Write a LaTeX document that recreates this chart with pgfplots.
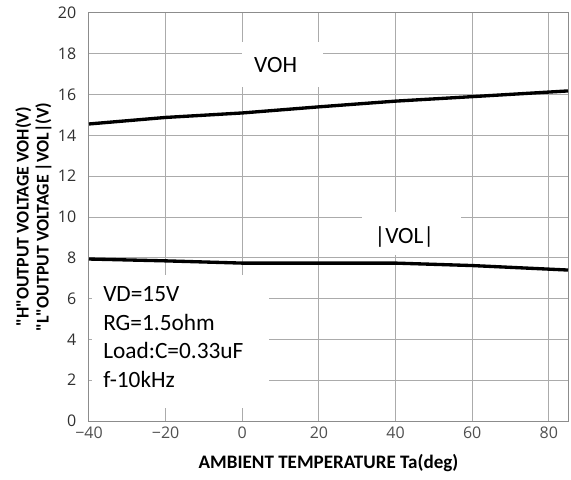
\documentclass[border=0pt]{standalone}
\usepackage{fontspec}
\setmainfont{Carlito}
\newfontfamily\lblfont{Carlito}
\newfontfamily\tickfont{Open Sans}
\usepackage{pgfplots}
\pgfplotsset{compat=1.18}
\definecolor{gridc}{HTML}{ABABAB}
\definecolor{axc}{HTML}{8C8C8C}
\definecolor{tickc}{HTML}{303030}
\definecolor{xtickc}{HTML}{505050}
\begin{document}
\begin{tikzpicture}
\begin{axis}[
  scale only axis,
  width=359.25pt, height=306pt,
  xmin=-40, xmax=85, ymin=0, ymax=20,
  xtick={-40,-20,0,20,40,60,80},
  xticklabels={−40,−20,0,20,40,60,80},
  ytick={0,2,...,20},
  grid=major,
  major grid style={gridc, line width=0.75pt},
  axis line style={axc, line width=0.75pt},
  tick style={draw=none},
  /pgf/number format/assume math mode=true,
  yticklabel={\pgfmathprintnumber[assume math mode=true]{\tick}},
  xticklabel style={font=\tickfont\fontsize{12}{14}\selectfont, text=xtickc, yshift=-1pt},
  yticklabel style={font=\tickfont\fontsize{12}{14}\selectfont, text=tickc, xshift=-6pt},
  xlabel={\textbf{AMBIENT TEMPERATURE Ta(deg)}},
  xlabel style={font=\lblfont\fontsize{14.3}{16}\selectfont, yshift=-5pt},
  ylabel={\textbf{"H"OUTPUT VOLTAGE VOH(V)}\\\textbf{"L"OUTPUT VOLTAGE |VOL|(V)}},
  ylabel style={font=\lblfont\fontsize{13.4}{15}\selectfont, align=center, yshift=-2pt},
]
\addplot[black, line width=2.5pt] coordinates {
  (-40,14.56) (-20,14.88) (0,15.1) (20,15.4) (40,15.68) (60,15.9) (85,16.18)
};
\addplot[black, line width=2.5pt] coordinates {
  (-40,7.94) (-20,7.85) (0,7.74) (20,7.74) (40,7.74) (60,7.62) (85,7.4)
};
\fill[white] (axis cs:-39.2,0.64) rectangle (axis cs:7.1,7.16);
\node[anchor=north west, align=left, inner sep=0pt, font=\fontsize{17.5}{21.5}\selectfont]
  at (axis cs:-36.35,6.6) {VD=15V\\RG=1.5ohm\\Load:C=0.33uF\\f-10kHz};
\fill[white] (axis cs:-0.1,16.37) rectangle (axis cs:21.0,18.58);
\node[inner sep=0pt, font=\fontsize{17.5}{18}\selectfont] at (axis cs:8.7,17.45) {VOH};
\fill[white] (axis cs:31.35,8.14) rectangle (axis cs:57.1,10.25);
\node[inner sep=0pt, font=\fontsize{17.5}{18}\selectfont] at (axis cs:42.3,9.02) {|VOL|};
\end{axis}
\pgfresetboundingbox
\path (-66.75pt,-43.5pt) rectangle (361.5pt,315.75pt);
\end{tikzpicture}
\end{document}
